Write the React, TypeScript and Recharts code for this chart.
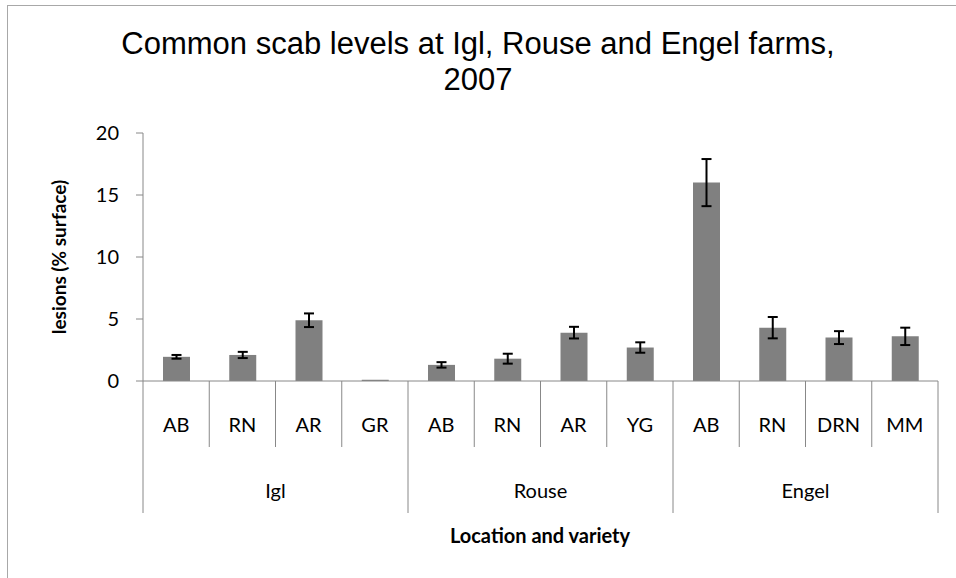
import { BarChart, Bar, XAxis, YAxis, ErrorBar } from "recharts";

const locations = ["Igl", "Igl", "Igl", "Igl", "Rouse", "Rouse", "Rouse", "Rouse", "Engel", "Engel", "Engel", "Engel"];
const varieties = ["AB", "RN", "AR", "GR", "AB", "RN", "AR", "YG", "AB", "RN", "DRN", "MM"];
const lesions = [1.95, 2.1, 4.9, 0.1, 1.3, 1.8, 3.9, 2.7, 16.0, 4.3, 3.5, 3.6];
const errors = [0.15, 0.25, 0.55, 0, 0.22, 0.4, 0.47, 0.42, 1.9, 0.86, 0.52, 0.7];
const yTicks = [0, 5, 10, 15, 20];

const W = 956;
const H = 578;
const M = { top: 133, right: 18, bottom: 65, left: 0 };
const Y_AXIS_W = 143;
const BAND = (W - M.left - M.right - Y_AXIS_W) / varieties.length;
const ROW = 66;
const GRID = "#888888";
const LABEL_FONT = "Lato, 'Open Sans', sans-serif";

const data = varieties.map((v, i) => ({
  variety: v,
  location: locations[i],
  lesions: lesions[i],
  err: errors[i],
}));

const isGroupStart = (i: number) => i === 0 || locations[i] !== locations[i - 1];

// first row: variety names plus the divider lines of both rows
function VarietyTick(props: any) {
  const { x, y, payload, index } = props;
  const left = x - BAND / 2;
  const last = index === varieties.length - 1;
  return (
    <g>
      <line x1={left} y1={y} x2={left} y2={y + (isGroupStart(index) ? ROW * 2 : ROW)} stroke={GRID} />
      {last && <line x1={x + BAND / 2} y1={y} x2={x + BAND / 2} y2={y + ROW * 2} stroke={GRID} />}
      <text x={x} y={y + 43} textAnchor="middle" dominantBaseline="central" fontFamily={LABEL_FONT} fontSize={20} fill="#000">
        {payload.value}
      </text>
    </g>
  );
}

// second row: location name centred under its four varieties
function LocationTick(props: any) {
  const { x, y, payload, index } = props;
  if (isGroupStart(index) || !isGroupStart(index - 1)) return <g />;
  return (
    <text x={x + BAND / 2} y={y + 43} textAnchor="middle" dominantBaseline="central" fontFamily={LABEL_FONT} fontSize={20} fill="#000">
      {payload.value}
    </text>
  );
}

export default function App() {
  return (
    <div style={{ position: "absolute", left: 0, top: 0, width: W, height: H, overflow: "hidden", background: "#fff" }}>
      <div style={{ position: "absolute", left: 7, top: 5, width: W + 20, height: H + 20, border: "1px solid #a8a8a8" }} />
      <div
        style={{
          position: "absolute",
          left: 0,
          top: 26,
          width: W,
          textAlign: "center",
          fontFamily: "'Liberation Sans', Arial, sans-serif",
          fontSize: 31,
          lineHeight: "36px",
          color: "#000",
        }}
      >
        Common scab levels at Igl, Rouse and Engel farms,
        <br />
        2007
      </div>
      <div
        style={{
          position: "absolute",
          left: 58,
          top: 257,
          transform: "translate(-50%, -50%) rotate(-90deg)",
          whiteSpace: "nowrap",
          fontFamily: LABEL_FONT,
          fontWeight: 700,
          fontSize: 19,
          color: "#000",
        }}
      >
        lesions (% surface)
      </div>
      <div
        style={{
          position: "absolute",
          left: 540,
          top: 535,
          transform: "translate(-50%, -50%)",
          whiteSpace: "nowrap",
          fontFamily: LABEL_FONT,
          fontWeight: 700,
          fontSize: 20,
          color: "#000",
        }}
      >
        Location and variety
      </div>
      <div style={{ position: "absolute", left: 0, top: 0 }}>
        <BarChart width={W} height={H} data={data} margin={M}>
          <YAxis
            type="number"
            domain={[0, 20]}
            ticks={yTicks}
            width={Y_AXIS_W}
            tickSize={7}
            tickMargin={17}
            stroke={GRID}
            tick={{ fill: "#000", fontSize: 20, fontFamily: LABEL_FONT }}
          />
          <XAxis
            xAxisId={0}
            dataKey="variety"
            interval={0}
            height={ROW}
            tickSize={0}
            tickMargin={0}
            tickLine={false}
            stroke={GRID}
            tick={<VarietyTick />}
          />
          <XAxis
            xAxisId={1}
            dataKey="location"
            interval={0}
            height={ROW}
            tickSize={0}
            tickMargin={0}
            tickLine={false}
            axisLine={false}
            tick={<LocationTick />}
          />
          <Bar dataKey="lesions" xAxisId={0} fill="#808080" barSize={27} isAnimationActive={false}>
            <ErrorBar dataKey="err" width={5} stroke="#000" strokeWidth={2} direction="y" />
          </Bar>
        </BarChart>
      </div>
    </div>
  );
}
